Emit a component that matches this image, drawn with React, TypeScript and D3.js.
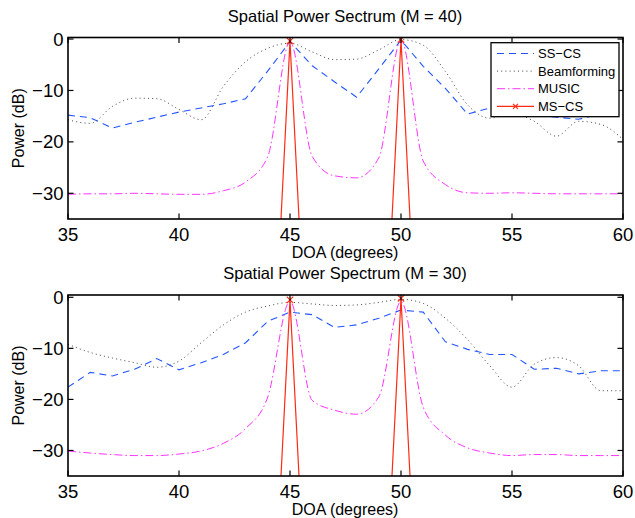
import React from 'react';
import * as d3 from 'd3';

const doa = [35, 36, 37, 38, 39, 40, 41, 42, 43, 44, 45, 46, 47, 48, 49, 50, 51, 52, 53, 54, 55, 56, 57, 58, 59, 60];

// M = 40
const ssTop = [-14.8, -15.3, -17.3, -16.2, -15.2, -14.2, -13.4, -12.6, -11.6, -6.2, -0.5, -5.2, -8.3, -11.3, -5.8, -0.2, -5.3, -9.6, -14.6, -13.4, -14.0, -14.8, -15.2, -15.6, -14.5, -14.7];
const beamTop = [-15.7, -16.4, -13.1, -11.5, -11.6, -13.7, -15.7, -9.2, -4.4, -1.8, -0.8, -2.5, -4.0, -3.9, -2.1, -0.1, -1.2, -6.3, -12.8, -15.4, -14.5, -16.0, -18.9, -16.0, -16.6, -19.5];
const musicTop = [-30.2, -30.1, -30.1, -30.0, -30.1, -30.2, -30.2, -29.5, -27.8, -22.8, -0.5, -22.8, -26.6, -27.0, -23.1, -0.2, -23.7, -28.3, -29.9, -30.0, -29.9, -30.0, -30.1, -30.1, -30.1, -30.1];

// M = 30
const ssBottom = [-17.6, -14.7, -15.4, -14.1, -12.0, -14.2, -12.8, -11.2, -8.9, -4.7, -2.9, -3.4, -5.9, -5.4, -4.1, -2.5, -2.9, -8.7, -10.2, -11.2, -11.2, -14.1, -13.9, -15.0, -14.4, -14.4];
const beamBottom = [-9.2, -10.8, -11.9, -12.8, -13.7, -12.5, -8.9, -5.4, -2.9, -1.7, -1.0, -1.3, -1.6, -1.5, -1.0, -0.4, -1.2, -4.1, -8.3, -13.4, -17.6, -13.1, -11.8, -13.4, -18.3, -18.3];
const musicBottom = [-30.1, -30.5, -30.8, -31.0, -31.0, -30.7, -30.1, -28.6, -25.7, -19.5, -0.8, -20.2, -22.1, -22.9, -19.5, -0.8, -21.5, -27.0, -29.5, -30.5, -31.0, -30.8, -30.8, -31.0, -31.0, -31.0];

// MS-CS: two sharp spikes, everything else far below the axis
const msDoa = [44.5, 45, 45.5, 49.5, 50, 50.5];
const msTop = [-43, -0.4, -43, -43, -0.1, -43];
const msBottom = [-43, -0.5, -43, -43, -0.2, -43];

const xTicks = [35, 40, 45, 50, 55, 60];
const yTicks = [-30, -20, -10, 0];

const FONT = '"Liberation Sans", Arial, Helvetica, sans-serif';
const BLUE = '#2255ff';
const GRAY = '#444444';
const MAGENTA = '#ff33ff';
const RED = '#ff2a14';

const series = [
  { name: 'SS\u2212CS', color: BLUE, dash: '7,5', width: 1.1 },
  { name: 'Beamforming', color: GRAY, dash: '1,3.2', width: 1 },
  { name: 'MUSIC', color: MAGENTA, dash: '8,3,1.5,3', width: 1 },
  { name: 'MS\u2212CS', color: RED, dash: null, width: 1.2 },
];

type PanelProps = {
  id: string;
  top: number;
  bottom: number;
  yMax: number;
  title: string;
  ss: number[];
  beam: number[];
  music: number[];
  ms: number[];
  legend?: boolean;
};

const left = 68;
const right = 623;

function Panel({ id, top, bottom, yMax, title, ss, beam, music, ms, legend }: PanelProps) {
  const x = d3.scaleLinear().domain([35, 60]).range([left, right]);
  const y = d3.scaleLinear().domain([-35, yMax]).range([bottom, top]);
  const lin = d3.line<[number, number]>().x((d) => x(d[0])).y((d) => y(d[1]));
  const smooth = d3
    .line<[number, number]>()
    .x((d) => x(d[0]))
    .y((d) => y(d[1]))
    .curve(d3.curveMonotoneX);
  const zip = (xs: number[], ys: number[]) => xs.map((v, i) => [v, ys[i]] as [number, number]);
  const tick = 5.5;
  const mk = 3.2;

  const legX = 491;
  const legY = top + 5.2;
  const legW = 128;
  const legH = 74;

  return (
    <g>
      <defs>
        <clipPath id={id}>
          <rect x={left} y={top} width={right - left} height={bottom - top} />
        </clipPath>
      </defs>
      <text x={345} y={top - 16} textAnchor="middle" fontSize={16.5} fontFamily={FONT}>
        {title}
      </text>
      <g clipPath={`url(#${id})`}>
        <path d={lin(zip(doa, ss)) ?? ''} fill="none" stroke={BLUE} strokeWidth={1.1} strokeDasharray="7,5" />
        <path d={smooth(zip(doa, beam)) ?? ''} fill="none" stroke={GRAY} strokeWidth={1} strokeDasharray="1,3.2" />
        <path d={smooth(zip(doa, music)) ?? ''} fill="none" stroke={MAGENTA} strokeWidth={1} strokeDasharray="8,3,1.5,3" />
        <path d={lin(zip(msDoa, ms)) ?? ''} fill="none" stroke={RED} strokeWidth={1.2} />
        {zip(msDoa, ms).map((d, i) => (
          <path
            key={i}
            d={`M${x(d[0]) - mk},${y(d[1]) - mk}L${x(d[0]) + mk},${y(d[1]) + mk}M${x(d[0]) - mk},${y(d[1]) + mk}L${x(d[0]) + mk},${y(d[1]) - mk}`}
            stroke={RED}
            strokeWidth={1.2}
          />
        ))}
      </g>
      {/* ticks on all four sides, pointing inward */}
      {xTicks.map((t) => (
        <g key={`x${t}`}>
          <line x1={x(t)} x2={x(t)} y1={bottom} y2={bottom - tick} stroke="#000" strokeWidth={1.2} />
          <line x1={x(t)} x2={x(t)} y1={top} y2={top + tick} stroke="#000" strokeWidth={1.2} />
          <text x={x(t)} y={bottom + 22} textAnchor="middle" fontSize={18.5} fontFamily={FONT}>
            {t}
          </text>
        </g>
      ))}
      {yTicks.map((t) => (
        <g key={`y${t}`}>
          <line x1={left} x2={left + tick} y1={y(t)} y2={y(t)} stroke="#000" strokeWidth={1.2} />
          <line x1={right} x2={right - tick} y1={y(t)} y2={y(t)} stroke="#000" strokeWidth={1.2} />
          <text x={left - 4.5} y={y(t) + 6.6} textAnchor="end" fontSize={18.5} fontFamily={FONT}>
            {t === 0 ? '0' : `\u2212${Math.abs(t)}`}
          </text>
        </g>
      ))}
      <rect x={left} y={top} width={right - left} height={bottom - top} fill="none" stroke="#000" strokeWidth={1.6} />
      <text x={345} y={bottom + 39} textAnchor="middle" fontSize={16} fontFamily={FONT}>
        DOA (degrees)
      </text>
      <text
        transform={`translate(${23.5},${(top + bottom) / 2}) rotate(-90)`}
        textAnchor="middle"
        fontSize={16}
        fontFamily={FONT}
      >
        Power (dB)
      </text>
      {legend && (
        <g>
          <rect x={legX} y={legY} width={legW} height={legH} fill="#fff" stroke="#000" strokeWidth={1.3} />
          {series.map((s, i) => {
            const ly = legY + 10.8 + i * 17.6;
            return (
              <g key={s.name}>
                <line x1={497} x2={534} y1={ly} y2={ly} stroke={s.color} strokeWidth={s.width} strokeDasharray={s.dash ?? undefined} />
                {s.dash === null && (
                  <path d={`M${515.5 - 2.5},${ly - 2.5}L${515.5 + 2.5},${ly + 2.5}M${515.5 - 2.5},${ly + 2.5}L${515.5 + 2.5},${ly - 2.5}`} stroke={RED} strokeWidth={1.2} />
                )}
                <text x={538} y={ly + 4.7} fontSize={13} fontFamily={FONT}>
                  {s.name}
                </text>
              </g>
            );
          })}
        </g>
      )}
    </g>
  );
}

export default function App() {
  return (
    <svg
      width={635}
      height={518}
      style={{ position: 'absolute', left: 0, top: 0, background: '#fff' }}
    >
      <rect width={635} height={518} fill="#fff" />
      <Panel
        id="clipTop"
        top={37.5}
        bottom={219}
        yMax={0.3}
        title="Spatial Power Sectrum (M = 40)"
        ss={ssTop}
        beam={beamTop}
        music={musicTop}
        ms={msTop}
        legend
      />
      <Panel
        id="clipBottom"
        top={295}
        bottom={476}
        yMax={0.45}
        title="Spatial Power Spectrum (M = 30)"
        ss={ssBottom}
        beam={beamBottom}
        music={musicBottom}
        ms={msBottom}
      />
    </svg>
  );
}
